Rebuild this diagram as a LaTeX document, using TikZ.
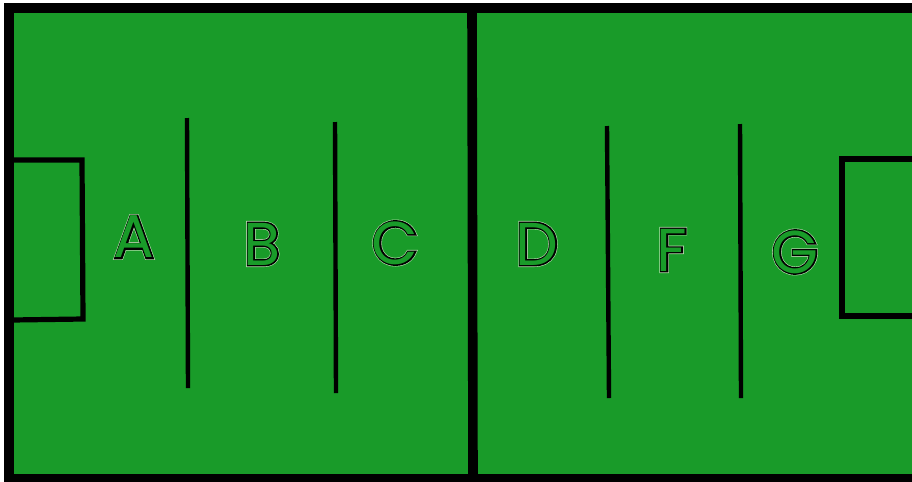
\documentclass[tikz,border=0pt]{standalone}
\usepackage{fontspec}
\setmainfont{Poppins}
\usepackage{xcolor}
\definecolor{pitchgreen}{HTML}{199B29}
\definecolor{halo}{HTML}{B8E0B0}

\newcommand{\zonetext}[1]{%
  \rlap{\color{halo}\addfontfeature{FakeBold=6.5}#1}%
  \rlap{\color{black}\addfontfeature{FakeBold=4.5}#1}%
  {\color{pitchgreen}#1}}

\begin{document}
\begin{tikzpicture}[
    x=0.025cm, y=-0.025cm,
    outline/.style={line width=2.6mm, line join=miter},
    zoneline/.style={line width=1.1mm},
    boxline/.style={line width=1.3mm},
    zone/.style={font=\fontsize{43}{43}\selectfont, inner sep=0pt},
]
\useasboundingbox (0,0) rectangle (912,481);

% Pitch
\fill[pitchgreen] (9,8) rectangle (912,478);
\draw[outline] (912,8) -- (9,8) -- (9,479) -- (912,479);
\draw[line width=2.4mm] (472,8) -- (473,478);

% Penalty boxes
\draw[boxline] (12,160) -- (82,160) -- (83,319) -- (12,320);
\draw[boxline] (912,159) -- (842,159) -- (842,316) -- (912,316);

% Zone lines
\foreach \xa/\ya/\xb/\yb in {187/118/188/388, 335/122/336/393, 607/126/609/398, 740/124/741/398} {
    \draw[zoneline] (\xa,\ya) -- (\xb,\yb);
}

% Zone labels
\node[zone] (za) at (134,237) {\zonetext{A}};
\node[zone] (zb) at (262,244) {\zonetext{B}};
\node[zone] (zc) at (395,243) {\zonetext{C}};
\node[zone] (zd) at (537,244) {\zonetext{D}};
\node[zone] (zf) at (672,250) {\zonetext{F}};
\node[zone] (zg) at (795,252) {\zonetext{G}};

\end{tikzpicture}
\end{document}
